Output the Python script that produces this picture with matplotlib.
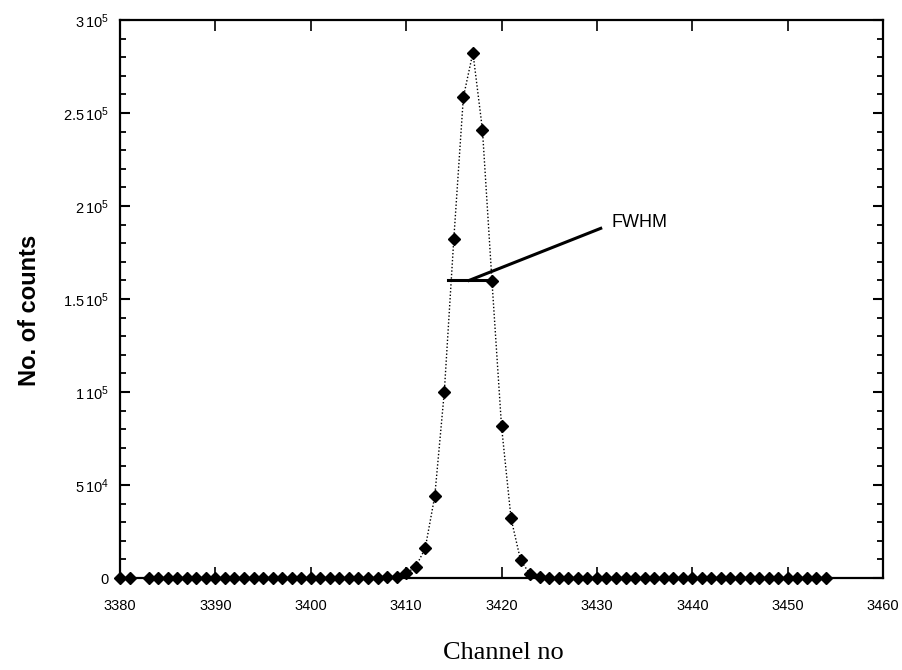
import matplotlib
matplotlib.use('Agg')
import matplotlib.pyplot as plt
from matplotlib.ticker import MultipleLocator, FixedLocator, FixedFormatter

# Gamma peak, counts per channel
channels = [3380, 3381] + list(range(3383, 3455))
counts = [0, 0,
          0, 0, 0, 0, 0, 0, 0, 0, 0, 0,          # 3383-3392
          0, 0, 0, 0, 0, 0, 0, 0, 0, 0,          # 3393-3402
          0, 0, 0, 0, 0, 300, 800, 2500, 6000, 16000,   # 3403-3412
          44000, 100000, 182500, 258500, 282500, 241000, 159500, 81500, 32000, 9500,  # 3413-3422
          2000, 500, 0, 0, 0, 0, 0, 0, 0, 0,     # 3423-3432
          0, 0, 0, 0, 0, 0, 0, 0, 0, 0,          # 3433-3442
          0, 0, 0, 0, 0, 0, 0, 0, 0, 0,          # 3443-3452
          0, 0]                                  # 3453-3454

y_ticks = [0, 50000, 100000, 150000, 200000, 250000, 300000]
y_tick_labels = ['0', r'5$\,$10$^4$', r'1$\,$10$^5$', r'1.5$\,$10$^5$',
                 r'2$\,$10$^5$', r'2.5$\,$10$^5$', r'3$\,$10$^5$']
x_ticks = [3380, 3390, 3400, 3410, 3420, 3430, 3440, 3450, 3460]

# FWHM marker
fwhm_left, fwhm_right, fwhm_level = 3414.4, 3418.9, 160000
arrow_tail = (3430.4, 188000)
arrow_tip = (3416.6, 160000)
fwhm_text_pos = (3431.5, 191000)

plt.rcParams['mathtext.fontset'] = 'custom'
plt.rcParams['mathtext.rm'] = 'Liberation Sans'
plt.rcParams['mathtext.it'] = 'Liberation Sans'

fig = plt.figure(figsize=(9.03, 6.70), dpi=100)
ax = fig.add_axes([0.1329, 0.1373, 0.8450, 0.8328])

ax.plot(channels, counts, color='black', linestyle=(0, (1, 1.5)), linewidth=1.0,
        marker='D', markersize=6, markerfacecolor='black', markeredgecolor='black',
        clip_on=False, zorder=3)

ax.plot([fwhm_left, fwhm_right], [fwhm_level, fwhm_level], color='black', linewidth=2.2)
ax.plot([arrow_tail[0], arrow_tip[0]], [arrow_tail[1], arrow_tip[1]], color='black', linewidth=2.2)
ax.text(fwhm_text_pos[0], fwhm_text_pos[1], 'FWHM', fontsize=13, family='Liberation Sans',
        ha='left', va='center')

ax.set_xlim(3380, 3460)
ax.set_ylim(0, 300000)

ax.yaxis.set_major_locator(FixedLocator(y_ticks))
ax.yaxis.set_major_formatter(FixedFormatter(y_tick_labels))
ax.yaxis.set_minor_locator(MultipleLocator(10000))
ax.xaxis.set_major_locator(FixedLocator(x_ticks))

for sp in ax.spines.values():
    sp.set_linewidth(1.6)

ax.tick_params(axis='y', which='major', direction='in', length=7, width=1.5,
               left=True, right=True, labelsize=10.5, pad=8)
ax.tick_params(axis='y', which='minor', direction='in', length=4, width=1.3,
               left=True, right=True)
ax.tick_params(axis='x', which='major', direction='in', length=8, width=1.2,
               top=True, bottom=True, labelsize=10.5, pad=15)
for lab in ax.get_xticklabels() + ax.get_yticklabels():
    lab.set_family('Liberation Sans')

ax.set_ylabel('No. of counts', fontsize=17, fontweight='bold', family='Liberation Sans')
ax.yaxis.set_label_coords(-0.104, 0.48)
ax.set_xlabel('Channel no', fontsize=19, family='Liberation Serif')
ax.xaxis.set_label_coords(0.503, -0.115)

fig.savefig('out.png', dpi=100)
